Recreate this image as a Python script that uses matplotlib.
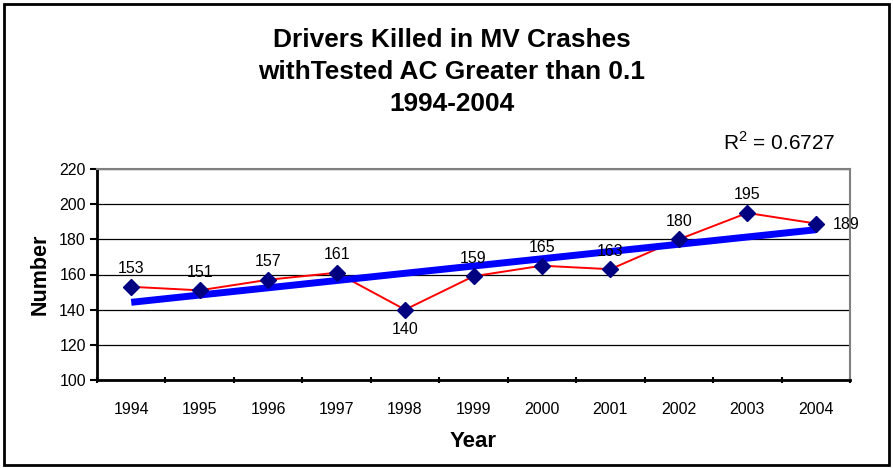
import matplotlib.pyplot as plt
import numpy as np
from matplotlib.patches import Rectangle

years = ["1994", "1995", "1996", "1997", "1998", "1999", "2000", "2001", "2002", "2003", "2004"]
killed = [153, 151, 157, 161, 140, 159, 165, 163, 180, 195, 189]
r_squared = "0.6727"

plt.rcParams['font.family'] = ['Liberation Sans', 'DejaVu Sans']
plt.rcParams['mathtext.fontset'] = 'custom'
plt.rcParams['mathtext.rm'] = 'Liberation Sans'

fig = plt.figure(figsize=(8.93, 4.68), dpi=100)
ax = fig.add_axes([97 / 893, 1 - 380 / 468, (850 - 97) / 893, (380 - 169) / 468])

x = np.arange(1, len(years) + 1)
ax.plot(x, killed, color='red', lw=1.4, zorder=3)
ax.plot(x, killed, ls='none', marker='D', ms=8.5, color='#000080', zorder=5)

# linear trendline, like excel does it
slope, icpt = np.polyfit(x, killed, 1)
ax.plot([x[0], x[-1]], [icpt + slope * x[0], icpt + slope * x[-1]], color='#0000FF', lw=5, zorder=4,
        solid_capstyle='butt')

fs = 11.5
for xi, v in zip(x, killed):
    if v == 140:
        ax.annotate(str(v), (xi, v), xytext=(0, -14), textcoords='offset points', ha='center', va='center',
                    fontsize=fs, zorder=6)
    elif xi == x[-1]:
        ax.annotate(str(v), (xi, v), xytext=(12, -1), textcoords='offset points', ha='left', va='center',
                    fontsize=fs, zorder=6, annotation_clip=False)
    else:
        ax.annotate(str(v), (xi, v), xytext=(0, 13), textcoords='offset points', ha='center', va='center',
                    fontsize=fs, zorder=6)

ax.set_xlim(0.5, len(years) + 0.5)
ax.set_ylim(100, 220)
ax.set_yticks(range(100, 221, 20))
ax.yaxis.grid(True, color='black', lw=0.9)
ax.set_axisbelow(True)
ax.tick_params(axis='y', labelsize=fs, length=5, width=1.5, direction='out', pad=3)

ax.set_xticks(np.arange(0.5, len(years) + 1, 1))
ax.set_xticklabels([])
ax.set_xticks(x, minor=True)
ax.set_xticklabels(years, minor=True)
ax.tick_params(axis='x', which='major', length=5, width=1.5, direction='inout')
ax.tick_params(axis='x', which='minor', length=0, labelsize=fs, pad=16)

for s in ['left', 'bottom']:
    ax.spines[s].set_linewidth(2)
    ax.spines[s].set_color('black')
for s in ['top', 'right']:
    ax.spines[s].set_linewidth(1.5)
    ax.spines[s].set_color('#808080')

ax.set_ylabel("Number", fontsize=15.5, fontweight='bold', labelpad=6)
ax.set_xlabel("Year", fontsize=16, fontweight='bold', labelpad=10)

fig.text(0.506, 1 - 72 / 468, "Drivers Killed in MV Crashes\nwithTested AC Greater than 0.1\n1994-2004",
         ha='center', va='center', fontsize=18.9, fontweight='bold', linespacing=1.43)
fig.text(0.872, 1 - 142 / 468, r"R$^{\mathrm{2}}$ = " + r_squared, ha='center', va='center', fontsize=15)

fig.patches.append(Rectangle((4 / 893, 3 / 468), 885 / 893, 461 / 468, transform=fig.transFigure,
                             fill=False, edgecolor='black', lw=2))

fig.savefig("out.png", dpi=100)
